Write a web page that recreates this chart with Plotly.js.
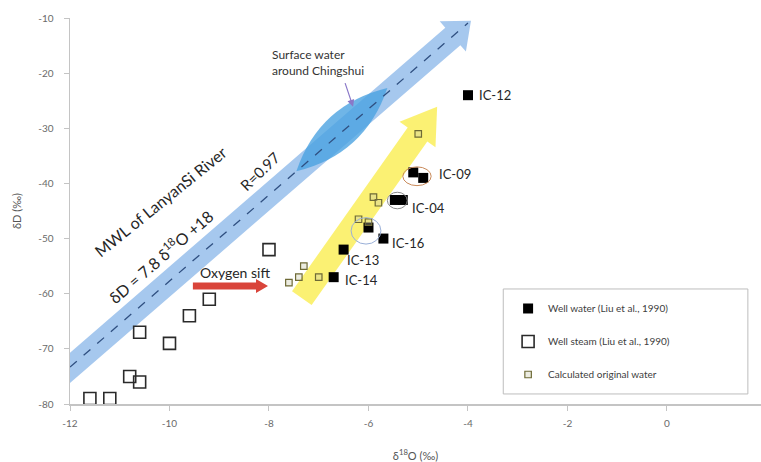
<!DOCTYPE html>
<html>
<head>
<meta charset="utf-8">
<script src="https://cdn.plot.ly/plotly-3.0.1.min.js"></script>
<style>html,body{margin:0;padding:0;background:#fff;}#chart{width:761px;height:462px;}</style>
</head>
<body>
<div id="chart"></div>
<script>
// ---- data ----
const wellWaterX = [-4.0, -5.1, -4.9, -5.47, -5.31, -6.0, -5.7, -6.5, -6.7];
const wellWaterY = [-24, -38, -39, -43, -43, -48, -50, -52, -57];

const wellSteamX = [-11.6, -11.2, -10.8, -10.6, -10.6, -10.0, -9.6, -9.2, -8.0];
const wellSteamY = [-79, -79, -75, -76, -67, -69, -64, -61, -52];

const calcX = [-7.6, -7.4, -7.3, -7.0, -6.2, -6.0, -5.9, -5.8, -5.0];
const calcY = [-58, -57, -55, -57, -46.5, -47, -42.5, -43.5, -31];

const mwlX = [-12, -4.0];
const mwlY = [-73.3, -10.9];

const sampleLabels = ['IC-12', 'IC-09', 'IC-04', 'IC-16', 'IC-13', 'IC-14'];
const seriesNames = ['Well water (Liu et al., 1990)', 'Well steam (Liu et al., 1990)', 'Calculated original water'];

const xTicks = [-12, -10, -8, -6, -4, -2, 0];
const yTicks = [-80, -70, -60, -50, -40, -30, -20, -10];

// ---- geometry helpers (pixel scale of the plot area) ----
const XR = [-12, 1.89], YR = [-80, -10];
const PW = 691, PH = 386;
const kx = PW / (XR[1] - XR[0]), ky = PH / (YR[1] - YR[0]);
function toPx(x, y) { return [x * kx, -y * ky]; }
function toData(p) { return [p[0] / kx, -p[1] / ky]; }
function arrowPath(x0, y0, x1, y1, w, hw, hl) {
  const A = toPx(x0, y0), B = toPx(x1, y1);
  let dx = B[0] - A[0], dy = B[1] - A[1];
  const L = Math.hypot(dx, dy); dx /= L; dy /= L;
  const nx = -dy, ny = dx;
  const bx = B[0] - dx * hl, by = B[1] - dy * hl;
  const pts = [
    [A[0] + nx * w / 2, A[1] + ny * w / 2],
    [bx + nx * w / 2, by + ny * w / 2],
    [bx + nx * hw / 2, by + ny * hw / 2],
    [B[0], B[1]],
    [bx - nx * hw / 2, by - ny * hw / 2],
    [bx - nx * w / 2, by - ny * w / 2],
    [A[0] - nx * w / 2, A[1] - ny * w / 2]
  ].map(toData);
  return 'M' + pts.map(p => p[0].toFixed(4) + ',' + p[1].toFixed(4)).join(' L') + ' Z';
}
function lensPath(x0, y0, x1, y1, h) {
  const A = toPx(x0, y0), B = toPx(x1, y1);
  let dx = B[0] - A[0], dy = B[1] - A[1];
  const L = Math.hypot(dx, dy); dx /= L; dy /= L;
  const nx = -dy, ny = dx;
  const mx = (A[0] + B[0]) / 2, my = (A[1] + B[1]) / 2;
  const c1 = toData([mx + nx * 2 * h, my + ny * 2 * h]);
  const c2 = toData([mx - nx * 2 * h, my - ny * 2 * h]);
  const f = v => v.toFixed(4);
  return 'M' + f(x0) + ',' + f(y0) + ' Q' + f(c1[0]) + ',' + f(c1[1]) + ' ' + f(x1) + ',' + f(y1) +
         ' Q' + f(c2[0]) + ',' + f(c2[1]) + ' ' + f(x0) + ',' + f(y0) + ' Z';
}

const FONT = 'Lato, "Open Sans", sans-serif';

const traces = [
  {
    x: mwlX, y: mwlY, mode: 'lines', type: 'scatter', showlegend: false, hoverinfo: 'skip',
    line: {color: '#2f4f80', width: 1.3, dash: 'dash'}
  },
  {
    x: wellWaterX, y: wellWaterY, mode: 'markers', type: 'scatter', name: seriesNames[0], legendgroup: 'a',
    marker: {symbol: 'square', size: 10, color: '#000000', line: {color: '#000', width: 0}}
  },
  {
    x: wellSteamX, y: wellSteamY, mode: 'markers', type: 'scatter', name: seriesNames[1], legendgroup: 'b',
    marker: {symbol: 'square-open', size: 12, color: '#2a2a2a', line: {width: 1.6}}
  },
  {
    x: calcX, y: calcY, mode: 'markers', type: 'scatter', name: seriesNames[2], legendgroup: 'c',
    marker: {symbol: 'square', size: 6.5, color: 'rgba(200,200,170,0.35)', line: {color: '#6e6a36', width: 1.2}}
  }
];

const shapes = [
  // MWL band with arrow head
  {type: 'path', layer: 'below', xref: 'x', yref: 'y', line: {width: 0},
   fillcolor: 'rgba(150,190,235,0.85)',
   path: arrowPath(-12.3, -75.8, -3.94, -10.5, 23, 40, 24)},
  // surface-water lens
  {type: 'path', layer: 'below', xref: 'x', yref: 'y', line: {width: 0},
   fillcolor: 'rgba(75,162,225,0.8)',
   path: lensPath(-7.45, -37.8, -5.62, -22.7, 17)},
  // yellow arrow
  {type: 'path', layer: 'below', xref: 'x', yref: 'y', line: {width: 0},
   fillcolor: 'rgba(250,238,90,0.85)',
   path: arrowPath(-7.34, -60.8, -4.62, -26.1, 24, 44, 34)},
  // red oxygen-shift arrow
  {type: 'path', layer: 'below', xref: 'x', yref: 'y', line: {width: 0},
   fillcolor: '#d9443a',
   path: arrowPath(-9.53, -58.6, -8.02, -58.6, 7, 14, 12)},
  // small pointer to the surface-water lens
  {type: 'path', xref: 'x', yref: 'y', line: {width: 0},
   fillcolor: '#8a78c8',
   path: arrowPath(-6.47, -21.8, -6.31, -26.1, 1.2, 7, 7)},
  // ellipses around samples
  {type: 'circle', xref: 'x', yref: 'y', x0: -5.31, x1: -4.74, y0: -37.0, y1: -40.4,
   line: {color: '#c98a5a', width: 1}},
  {type: 'circle', xref: 'x', yref: 'y', x0: -5.62, x1: -5.22, y0: -41.6, y1: -44.6,
   line: {color: '#8a8a8a', width: 1}},
  {type: 'circle', xref: 'x', yref: 'y', x0: -6.35, x1: -5.75, y0: -46.2, y1: -51.0,
   line: {color: '#9ab0d8', width: 1}},
  // legend frame
  {type: 'rect', xref: 'paper', yref: 'paper', x0: 0.627, x1: 0.981, y0: 0.026, y1: 0.298,
   line: {color: '#bdbdbd', width: 1}, fillcolor: 'rgba(255,255,255,0)'}
];

const annFont = (s, c) => ({family: FONT, size: s, color: c || '#262626'});
const annotations = [
  {x: -10.19, y: -43.2, xref: 'x', yref: 'y', text: 'MWL of LanyanSi River', showarrow: false,
   textangle: -39, font: annFont(16)},
  {x: -10.19, y: -53.3, xref: 'x', yref: 'y', text: 'δD = 7.8 δ<sup>18</sup>O +18', showarrow: false,
   textangle: -41, font: annFont(16)},
  {x: -8.18, y: -37.8, xref: 'x', yref: 'y', text: 'R=0.97', showarrow: false,
   textangle: -44, font: annFont(15)},
  {x: -8.68, y: -56.1, xref: 'x', yref: 'y', text: 'Oxygen sift', showarrow: false,
   font: annFont(14)},
  {x: -7.98, y: -18.0, xref: 'x', yref: 'y', text: 'Surface water<br>around Chingshui', showarrow: false,
   xanchor: 'left', align: 'left', font: annFont(12, '#333')},
  {x: -3.82, y: -24, xref: 'x', yref: 'y', text: sampleLabels[0], showarrow: false, xanchor: 'left', font: annFont(13)},
  {x: -4.62, y: -38.3, xref: 'x', yref: 'y', text: sampleLabels[1], showarrow: false, xanchor: 'left', font: annFont(13)},
  {x: -5.17, y: -44.5, xref: 'x', yref: 'y', text: sampleLabels[2], showarrow: false, xanchor: 'left', font: annFont(13)},
  {x: -5.57, y: -50.8, xref: 'x', yref: 'y', text: sampleLabels[3], showarrow: false, xanchor: 'left', font: annFont(13)},
  {x: -6.47, y: -53.9, xref: 'x', yref: 'y', text: sampleLabels[4], showarrow: false, xanchor: 'left', font: annFont(13)},
  {x: -6.51, y: -57.5, xref: 'x', yref: 'y', text: sampleLabels[5], showarrow: false, xanchor: 'left', font: annFont(13)}
];

const layout = {
  width: 761, height: 462,
  margin: {l: 70, r: 0, t: 18, b: 58},
  paper_bgcolor: '#ffffff', plot_bgcolor: '#ffffff',
  font: {family: FONT, color: '#595959'},
  showlegend: true,
  legend: {
    x: 0.634, xanchor: 'left', y: 0.285, yanchor: 'top',
    bgcolor: 'rgba(0,0,0,0)', borderwidth: 0,
    font: {family: FONT, size: 10, color: '#404040'},
    tracegroupgap: 14, itemwidth: 30
  },
  xaxis: {
    range: XR, tickvals: xTicks, ticktext: xTicks.map(String),
    showgrid: false, zeroline: false, showline: true, linecolor: '#c4c4c4', linewidth: 1.5,
    ticks: 'outside', ticklen: 5, tickcolor: '#c4c4c4', ticklabelstandoff: 4,
    tickfont: {family: FONT, size: 10, color: '#6a6a6a'},
    title: {text: 'δ<sup>18</sup>O (‰)', font: {family: FONT, size: 11, color: '#555'}, standoff: 34}
  },
  yaxis: {
    range: YR, tickvals: yTicks, ticktext: yTicks.map(String),
    showgrid: false, zeroline: false, showline: true, linecolor: '#c4c4c4', linewidth: 1.5,
    ticks: 'outside', ticklen: 5, tickcolor: '#c4c4c4', ticklabelstandoff: 8,
    tickfont: {family: FONT, size: 10, color: '#6a6a6a'},
    title: {text: 'δD (‰)', font: {family: FONT, size: 11, color: '#555'}, standoff: 14}
  },
  shapes: shapes,
  annotations: annotations
};

Plotly.newPlot('chart', traces, layout, {displayModeBar: false, staticPlot: true});
</script>
</body>
</html>
